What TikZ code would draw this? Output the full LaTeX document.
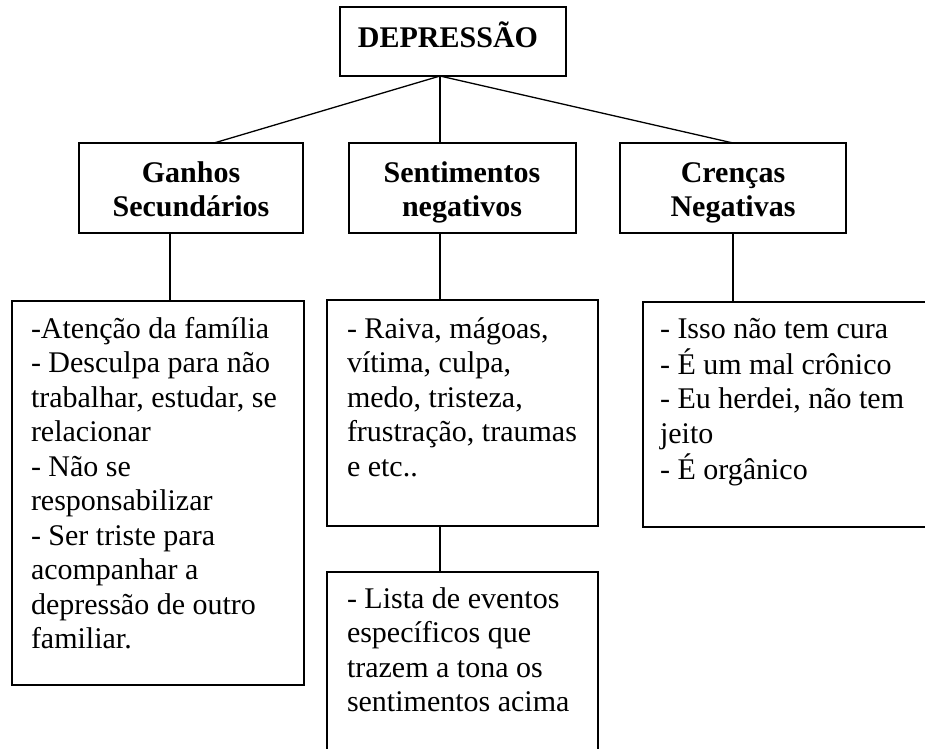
\documentclass[tikz,border=0pt]{standalone}
\usepackage{fontspec}
\setmainfont{Liberation Serif}
\usetikzlibrary{calc}
\begin{document}
\begin{tikzpicture}[x=1pt,y=-1pt,
  box/.style={draw, line width=1.3pt, inner sep=0pt, outer sep=0pt, anchor=north west},
  txt/.style={inner sep=0pt, outer sep=0pt, anchor=base west, font=\fontsize{30}{34.5}\selectfont},
  head/.style={inner sep=0pt, outer sep=0pt, anchor=base, font=\fontsize{30}{34.5}\selectfont\bfseries},
  conn/.style={line width=1.3pt}]
\useasboundingbox (0,0) rectangle (925,748);
\fill[white] (0,0) rectangle (925,748);
\clip (0,0) rectangle (925,748);
% top box
\node[box, minimum width=226pt, minimum height=69pt] (dep) at (340,7) {};
\node[head] (depT) at (448,47) {DEPRESSÃO};
% second level
\node[box, minimum width=224pt, minimum height=90pt] (gan) at (79,143) {};
\node[head] (ganT) at (191,182) {\begin{tabular}[t]{@{}c@{}}Ganhos\\Secundários\end{tabular}};
\node[box, minimum width=227pt, minimum height=90pt] (sen) at (349,143) {};
\node[head] (senT) at (462,182) {\begin{tabular}[t]{@{}c@{}}Sentimentos\\negativos\end{tabular}};
\node[box, minimum width=226pt, minimum height=90pt] (cre) at (620,143) {};
\node[head] (creT) at (733,182) {\begin{tabular}[t]{@{}c@{}}Crenças\\Negativas\end{tabular}};
% detail boxes
\node[box, minimum width=292pt, minimum height=384pt] (ld) at (12,301) {};
\node[txt] (ldT) at (31,338) {\begin{tabular}[t]{@{}l@{}}-Atenção da família\\- Desculpa para não\\trabalhar, estudar, se\\relacionar\\- Não se\\responsabilizar\\- Ser triste para\\acompanhar a\\depressão de outro\\familiar.\end{tabular}};
\node[box, minimum width=271pt, minimum height=226pt] (md) at (327,300) {};
\node[txt] (mdT) at (347,338) {\begin{tabular}[t]{@{}l@{}}- Raiva, mágoas,\\vítima, culpa,\\medo, tristeza,\\frustração, traumas\\e etc..\end{tabular}};
\node[box, minimum width=320pt, minimum height=225pt] (rd) at (643,302) {};
\node[txt] (rdT) at (660,338) {\begin{tabular}[t]{@{}l@{}}- Isso não tem cura\\- É um mal crônico\\- Eu herdei, não tem\\jeito\\- É orgânico\end{tabular}};
\node[box, minimum width=271pt, minimum height=220pt] (bd) at (327,572) {};
\node[txt] (bdT) at (347,608) {\begin{tabular}[t]{@{}l@{}}- Lista de eventos\\específicos que\\trazem a tona os\\sentimentos acima\end{tabular}};
% connectors
\coordinate (apex) at (440,76);
\coordinate (cg) at (170,0);
\draw[conn] (apex) -- ($(gan.north west)+(135,0)$);
\draw[conn] (apex) -- (sen.north -| apex);
\draw[conn] (apex) -- (cre.north);
\draw[conn] (gan.south -| cg) -- (ld.north -| cg);
\draw[conn] (sen.south -| apex) -- (md.north -| apex);
\draw[conn] (cre.south) -- (rd.north -| cre.south);
\draw[conn] (md.south -| apex) -- (bd.north -| apex);
\end{tikzpicture}
\end{document}
